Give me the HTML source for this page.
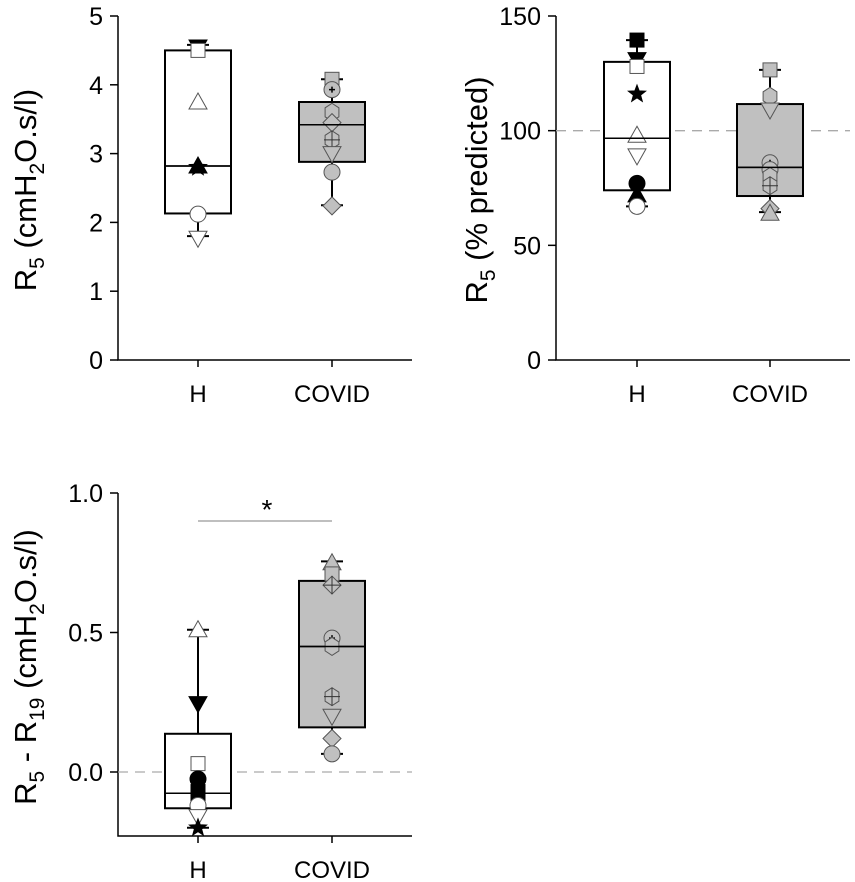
<!DOCTYPE html>
<html><head><meta charset="utf-8"><style>
body{margin:0;background:#fff}
svg{display:block;font-family:"Liberation Sans",Arial,sans-serif}
</style></head><body>
<svg id="fig" width="855" height="882" viewBox="0 0 855 882" xmlns="http://www.w3.org/2000/svg"></svg>
<script>
// ---- data ----
const categories = ["H","COVID"];
// panel A: R5 (cmH2O.s/l)
const aTicks = [0,1,2,3,4,5];
const aBoxH = [1.80,2.13,2.82,4.50,4.58];     // whiskerLow, q1, median, q3, whiskerHigh
const aBoxC = [2.25,2.88,3.42,3.75,4.08];
const aPtsHval = [4.55,4.50,3.75,2.82,2.80,2.12,1.77];
const aPtsHsym = ["tdownK","sqW","tupW","tupK","starK","circW","tdownW"];
const aPtsCval = [4.08,3.93,3.60,3.45,3.20,3.00,2.73,2.24];
const aPtsCsym = ["sqG","circPlusG","hexG","diamG","hexCrossG","tdownG","circG","diamG"];
// panel B: R5 % predicted
const bTicks = [0,50,100,150];
const bBoxH = [67,74,96.7,130,139.5];
const bBoxC = [64.5,71.5,84,111.6,126.5];
const bPtsHval = [139.5,131,128,116,98,89,77,72,67];
const bPtsHsym = ["sqK","tdownK","sqW","starK","tupW","tdownW","circK","tupK","circW"];
const bPtsCval = [126.5,115,109,86,83,80,76,66,64];
const bPtsCsym = ["sqG","hexG","tdownG","circPlusG","circG","hexG","hexCrossG","diamG","tupG"];
// panel C: R5 - R19
const cTicks = [0.0,0.5,1.0];
const cTickLabels = ["0.0","0.5","1.0"];
const cBoxH = [-0.20,-0.13,-0.076,0.137,0.51];
const cBoxC = [0.065,0.16,0.45,0.685,0.755];
const cPtsHval = [0.51,0.245,0.03,-0.025,-0.07,-0.09,-0.12,-0.16,-0.20];
const cPtsHsym = ["tupW","tdownK","sqW","circK","sqK","sqK","circW","tdownW","starK"];
const cPtsCval = [0.75,0.71,0.67,0.48,0.45,0.27,0.20,0.12,0.065];
const cPtsCsym = ["tupG","sqG","diamCrossG","circPlusG","hexG","hexCrossG","tdownG","diamG","circG"];

const NS="http://www.w3.org/2000/svg";
const svg=document.getElementById('fig');
function mk(tag,attrs,parent){const e=document.createElementNS(NS,tag);for(const k in attrs)e.setAttribute(k,attrs[k]);(parent||svg).appendChild(e);return e;}

function marker(g,sym,x,y){
  const col=sym.slice(-1), type=sym.slice(0,-1);
  const fill=col==="K"?"#000":col==="W"?"#fff":"#c0c0c0";
  const st={fill:fill,stroke:col==="K"?"#000":"#555","stroke-width":1};
  const r=8;let e;
  if(type==="circ"||type==="circPlus"){e=mk('circle',Object.assign({cx:x,cy:y,r:r},st),g);
    if(type==="circPlus"){mk('path',{d:`M${x-3},${y}H${x+3}M${x},${y-3}V${y+3}`,stroke:"#000","stroke-width":1.5},g);}}
  else if(type==="sq"){e=mk('rect',Object.assign({x:x-7,y:y-7,width:14,height:14},st),g);}
  else if(type==="tup"){e=mk('polygon',Object.assign({points:`${x},${y-9} ${x+9},${y+7} ${x-9},${y+7}`},st),g);}
  else if(type==="tdown"){e=mk('polygon',Object.assign({points:`${x},${y+9} ${x+9},${y-7} ${x-9},${y-7}`},st),g);}
  else if(type==="diam"||type==="diamCross"){e=mk('polygon',Object.assign({points:`${x},${y-9} ${x+9},${y} ${x},${y+9} ${x-9},${y}`},st),g);
    if(type==="diamCross")mk('path',{d:`M${x-9},${y}H${x+9}M${x},${y-9}V${y+9}`,stroke:"#333","stroke-width":1},g);}
  else if(type==="hex"||type==="hexCross"){let p=[];for(let i=0;i<6;i++){const a=Math.PI/6+i*Math.PI/3;p.push((x+8*Math.cos(a)).toFixed(1)+","+(y+9*Math.sin(a)).toFixed(1));}
    e=mk('polygon',Object.assign({points:p.join(" ")},st),g);
    if(type==="hexCross")mk('path',{d:`M${x-8},${y}H${x+8}M${x},${y-9}V${y+9}`,stroke:"#333","stroke-width":1},g);}
  else if(type==="star"){let p=[];for(let i=0;i<10;i++){const rr=i%2?3.8:9,a=-Math.PI/2+i*Math.PI/5;p.push((x+rr*Math.cos(a)).toFixed(1)+","+(y+rr*Math.sin(a)).toFixed(1));}
    e=mk('polygon',Object.assign({points:p.join(" ")},st),g);}
  
  
}

function panel(o){
  const g=mk('g',{});
  
  
  const ys=v=>o.y0+(v-o.vmin)/(o.vmax-o.vmin)*(o.y1-o.y0);
  const xs=i=>o.xc[i];
  const ax=mk('path',{d:`M${o.ax},${o.yTop}V${o.y0}H${o.axEnd}`,stroke:"#000","stroke-width":1.5,fill:"none"},g);
  
  o.ticks.forEach((t,i)=>{const y=ys(t);
    mk('line',{x1:o.ax-8,x2:o.ax,y1:y,y2:y,stroke:"#000","stroke-width":1.5},g);
    const tl=mk('text',{x:o.ax-15,y:y+9,"text-anchor":"end","font-size":25,fill:"#000"},g);
    tl.textContent=o.tickLabels?o.tickLabels[i]:String(t);
    });
  categories.forEach((c,i)=>{
    mk('line',{x1:xs(i),x2:xs(i),y1:o.y0,y2:o.y0+7,stroke:"#000","stroke-width":1.5},g);
    const t=mk('text',{x:xs(i),y:o.y0+42,"text-anchor":"middle","font-size":24,fill:"#000"},g);
    t.textContent=c;});
  const tt=mk('text',{transform:`translate(${o.titleX},${o.titleY}) rotate(-90)`,"text-anchor":"middle","font-size":31,fill:"#000"},g);
  tt.innerHTML=o.title;
  
  if(o.ref!==undefined){const l=mk('line',{x1:o.ax,x2:o.axEnd,y1:ys(o.ref),y2:ys(o.ref),stroke:"#aaa","stroke-width":1.3,"stroke-dasharray":"10,7"},g);
    }
  [o.boxH,o.boxC].forEach((b,i)=>{
    const x=xs(i),hw=33,hc=11;
    mk('line',{x1:x,x2:x,y1:ys(b[0]),y2:ys(b[4]),stroke:"#000","stroke-width":2},g);
    mk('line',{x1:x-hc,x2:x+hc,y1:ys(b[0]),y2:ys(b[0]),stroke:"#000","stroke-width":2},g);
    mk('line',{x1:x-hc,x2:x+hc,y1:ys(b[4]),y2:ys(b[4]),stroke:"#000","stroke-width":2},g);
    const r=mk('rect',{x:x-hw,y:ys(b[3]),width:2*hw,height:ys(b[1])-ys(b[3]),fill:i?"#c0c0c0":"#fff",stroke:"#000","stroke-width":2},g);
    
    const m=mk('line',{x1:x-hw,x2:x+hw,y1:ys(b[2]),y2:ys(b[2]),stroke:"#000","stroke-width":1.5},g);
    
  });
  o.ptsHval.forEach((v,i)=>marker(g,o.ptsHsym[i],xs(0),ys(v)));
  o.ptsCval.forEach((v,i)=>marker(g,o.ptsCsym[i],xs(1),ys(v)));
  [o.boxH,o.boxC].forEach((b,i)=>{mk('line',{x1:xs(i)-33,x2:xs(i)+33,y1:ys(b[2]),y2:ys(b[2]),stroke:"#000","stroke-width":1.5},g);});
  return {g,ys,xs};
}

const SUB='font-size="21"';
panel({name:'panel-r5',ax:118,axEnd:412,y0:360,yTop:16,y1:16,vmin:0,vmax:5,xc:[198,332],ticks:aTicks,
  title:`R<tspan ${SUB} dy="8">5</tspan><tspan dy="-8"> (cmH</tspan><tspan ${SUB} dy="8">2</tspan><tspan dy="-8">O.s/l)</tspan>`,titleX:36,titleY:190,
  boxH:aBoxH,boxC:aBoxC,ptsHval:aPtsHval,ptsHsym:aPtsHsym,ptsCval:aPtsCval,ptsCsym:aPtsCsym});
panel({name:'panel-r5-predicted',ax:556,axEnd:850,y0:360,yTop:16,y1:16,vmin:0,vmax:150,xc:[637,770],ticks:bTicks,ref:100,
  title:`R<tspan ${SUB} dy="8">5</tspan><tspan dy="-8"> (% predicted)</tspan>`,titleX:487,titleY:190,
  boxH:bBoxH,boxC:bBoxC,ptsHval:bPtsHval,ptsHsym:bPtsHsym,ptsCval:bPtsCval,ptsCsym:bPtsCsym});
panel({name:'panel-r5-r19',ax:118,axEnd:412,y0:836,yTop:493,y1:493,vmin:-0.2294,vmax:1.0,xc:[198,332],ticks:cTicks,tickLabels:cTickLabels,ref:0,
  title:`R<tspan ${SUB} dy="8">5</tspan><tspan dy="-8"> - R</tspan><tspan ${SUB} dy="8">19</tspan><tspan dy="-8"> (cmH</tspan><tspan ${SUB} dy="8">2</tspan><tspan dy="-8">O.s/l)</tspan>`,titleX:36,titleY:667,
  boxH:cBoxH,boxC:cBoxC,ptsHval:cPtsHval,ptsHsym:cPtsHsym,ptsCval:cPtsCval,ptsCsym:cPtsCsym});
const sl=mk('line',{x1:198,x2:332,y1:521,y2:521,stroke:"#aaa","stroke-width":1.5});

const ast=mk('text',{x:267,y:519,"text-anchor":"middle","font-size":28,fill:"#000"});
ast.textContent="*";

</script>
</body></html>
